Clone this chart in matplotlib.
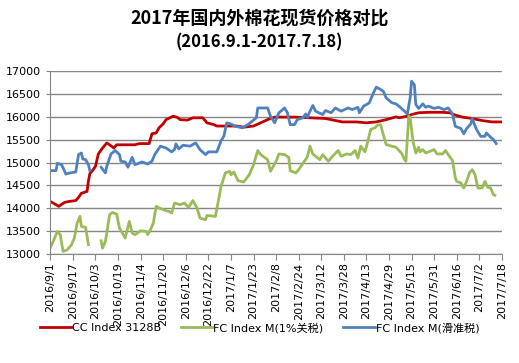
import datetime as dt

import numpy as np
import matplotlib

matplotlib.use('agg')
import matplotlib.pyplot as plt

plt.rcParams['font.family'] = ['DejaVu Sans', 'Noto Sans CJK SC']

START = dt.date(2016, 9, 1)
nan = np.nan

# days since 2016-09-01
cc_days = [0, 4, 6, 10, 13, 18, 20, 22, 26, 27, 28, 30, 32, 34, 37, 40, 42, 45, 47,
           60, 63, 70, 72, 75, 77, 80, 82, 87, 90, 92, 97, 101, 108, 111, 116, 118,
           132, 137, 144, 149, 154, 159, 167, 174, 184, 195, 202, 207, 217, 224,
           231, 238, 245, 247, 253, 256, 261, 268, 278, 283, 287, 292, 299, 306,
           313, 320]
cc_vals = [14150, 14080, 14045, 14130, 14150, 14170, 14240, 14330, 14370, 14600,
           14760, 14830, 14920, 15190, 15320, 15430, 15390, 15320, 15390, 15390,
           15415, 15415, 15630, 15650, 15760, 15850, 15940, 16015, 15990, 15940,
           15930, 15980, 15980, 15870, 15830, 15800, 15800, 15775, 15800, 15870,
           15940, 15995, 15995, 15995, 15980, 15965, 15920, 15890, 15890, 15870,
           15890, 15940, 16000, 15980, 16015, 16050, 16090, 16100, 16100, 16090,
           16040, 15995, 15965, 15920, 15890, 15890]

fc1_days = [0, 2, 5, 7, 9, 12, 15, 17, 19, 21, 22, 25, 27, 31, 36, 37, 39, 42, 44,
            47, 49, 51, 53, 56, 58, 60, 64, 68, 69, 71, 73, 75, 78, 82, 84, 86, 88,
            92, 95, 98, 101, 104, 106, 110, 111, 117, 121, 124, 127, 128, 130, 133,
            137, 141, 144, 147, 149, 154, 156, 160, 162, 166, 169, 170, 174, 176,
            180, 182, 184, 186, 191, 193, 197, 200, 204, 206, 210, 213, 216, 218,
            220, 223, 225, 227, 230, 232, 234, 238, 242, 245, 248, 249, 251, 252,
            254, 255, 257, 259, 261, 262, 264, 266, 268, 272, 274, 278, 280, 282,
            285, 287, 288, 291, 293, 295, 297, 299, 301, 303, 306, 308, 310, 312,
            314, 315]
fc1_vals = [13145, 13275, 13495, 13425, 13060, 13095, 13205, 13350, 13680, 13825,
            13605, 13585, 13205, nan, 13290, 13130, 13275, 13860, 13910, 13875,
            13570, 13460, 13350, 13715, 13460, 13425, 13510, 13495, 13425, 13535,
            13680, 14045, 13995, 13950, 13935, 13900, 14115, 14080, 14115, 14020,
            14170, 14005, 13790, 13750, 13845, 13825, 14480, 14775, 14810, 14735,
            14795, 14605, 14575, 14735, 14955, 15265, 15175, 15065, 14810, 15030,
            15190, 15175, 15115, 14825, 14775, 14845, 15030, 15115, 15360, 15190,
            15065, 15175, 15030, 15140, 15265, 15140, 15190, 15175, 15265, 15100,
            15360, 15235, 15465, 15725, 15760, 15820, 15830, 15395, 15360, 15335,
            15235, 15200, 15065, 15030, 16015, 15990, 15465, 15210, 15335, 15235,
            15285, 15210, 15235, 15285, 15190, 15190, 15265, 15175, 15045, 14665,
            14590, 14555, 14445, 14590, 14775, 14845, 14735, 14445, 14445, 14590,
            14460, 14445, 14300, 14285]

fcs_days = [0, 4, 5, 8, 11, 14, 18, 20, 22, 23, 25, 27, 28, 31, 36, 39, 40, 43, 46,
            49, 50, 53, 55, 58, 60, 65, 69, 72, 74, 78, 82, 86, 88, 89, 91, 94, 99,
            103, 106, 110, 112, 118, 121, 123, 125, 128, 131, 136, 140, 143, 146,
            147, 154, 156, 159, 162, 166, 168, 170, 173, 175, 179, 181, 182, 186,
            188, 193, 195, 199, 202, 206, 211, 214, 218, 219, 222, 226, 229, 231,
            234, 236, 238, 242, 245, 247, 251, 253, 255, 256, 258, 259, 261, 264,
            266, 268, 272, 275, 279, 282, 285, 287, 291, 293, 295, 298, 299, 302,
            305, 308, 309, 312, 314, 316]
fcs_vals = [14825, 14825, 14985, 14955, 14750, 14775, 14795, 15175, 15210, 15080,
            15065, 14955, 14825, nan, 14900, 14775, 14920, 15190, 15265, 15175,
            15030, 15015, 14900, 15115, 14955, 15015, 14970, 15030, 15175, 15360,
            15320, 15235, 15285, 15410, 15300, 15380, 15360, 15430, 15285, 15175,
            15235, 15235, 15480, 15580, 15870, 15845, 15795, 15760, 15830, 15905,
            15980, 16195, 16195, 16015, 15870, 16090, 16195, 16090, 15830, 15830,
            15940, 15980, 16065, 15990, 16250, 16125, 16050, 16140, 16090, 16195,
            16125, 16195, 16160, 16210, 16090, 16235, 16305, 16525, 16650, 16600,
            16560, 16415, 16310, 16285, 16235, 16125, 16065, 16415, 16780, 16700,
            16270, 16185, 16285, 16210, 16235, 16185, 16210, 16160, 16195, 16065,
            15795, 15745, 15630, 15745, 15845, 15965, 15725, 15575, 15575, 15650,
            15555, 15505, 15415]

tick_days = list(range(0, 321, 16))
tick_labels = []
for d in tick_days:
    day = START + dt.timedelta(days=d)
    tick_labels.append('{}/{}/{}'.format(day.year, day.month, day.day))

labels = ['CC Index 3128B', 'FC Index M(1%关税)', 'FC Index M(滑准税)']
colors = ['#C00000', '#9BBB59', '#4F81BD']

fig = plt.figure(figsize=(5.19, 3.63), dpi=100)
ax = fig.add_axes([0.097, 0.300, 0.870, 0.504])

ax.plot(cc_days, cc_vals, color=colors[0], lw=2.0, label=labels[0])
ax.plot(fc1_days, fc1_vals, color=colors[1], lw=2.0, label=labels[1])
ax.plot(fcs_days, fcs_vals, color=colors[2], lw=2.0, label=labels[2])

ax.set_xlim(0, 320)
ax.set_ylim(13000, 17000)
ax.set_yticks(range(13000, 17001, 500))
ax.set_xticks(tick_days)
ax.set_xticklabels(tick_labels, rotation=90, fontsize=8)
ax.tick_params(axis='y', labelsize=8, length=3, color='#868686')
ax.tick_params(axis='x', length=4, color='#868686', pad=2)
ax.grid(axis='y', color='#868686', lw=1)
ax.set_axisbelow(True)
for side in ['top', 'right']:
    ax.spines[side].set_visible(False)
for side in ['left', 'bottom']:
    ax.spines[side].set_color('#868686')

fig.text(0.5, 0.95, '2017年国内外棉花现货价格对比', ha='center', va='center',
         fontsize=13, fontweight='bold', family=['Noto Sans CJK SC'])
fig.text(0.5, 0.884, '(2016.9.1-2017.7.18)', ha='center', va='center',
         fontsize=12, fontweight='bold', family=['Noto Sans CJK SC'])

fig.legend(loc='center', bbox_to_anchor=(0.5, 0.097), ncol=3, frameon=False,
           handlelength=2.8, handletextpad=0.1, columnspacing=1.8,
           prop={'family': ['DejaVu Sans', 'Noto Sans CJK SC'], 'size': 8})

fig.savefig('out.png', dpi=100)
